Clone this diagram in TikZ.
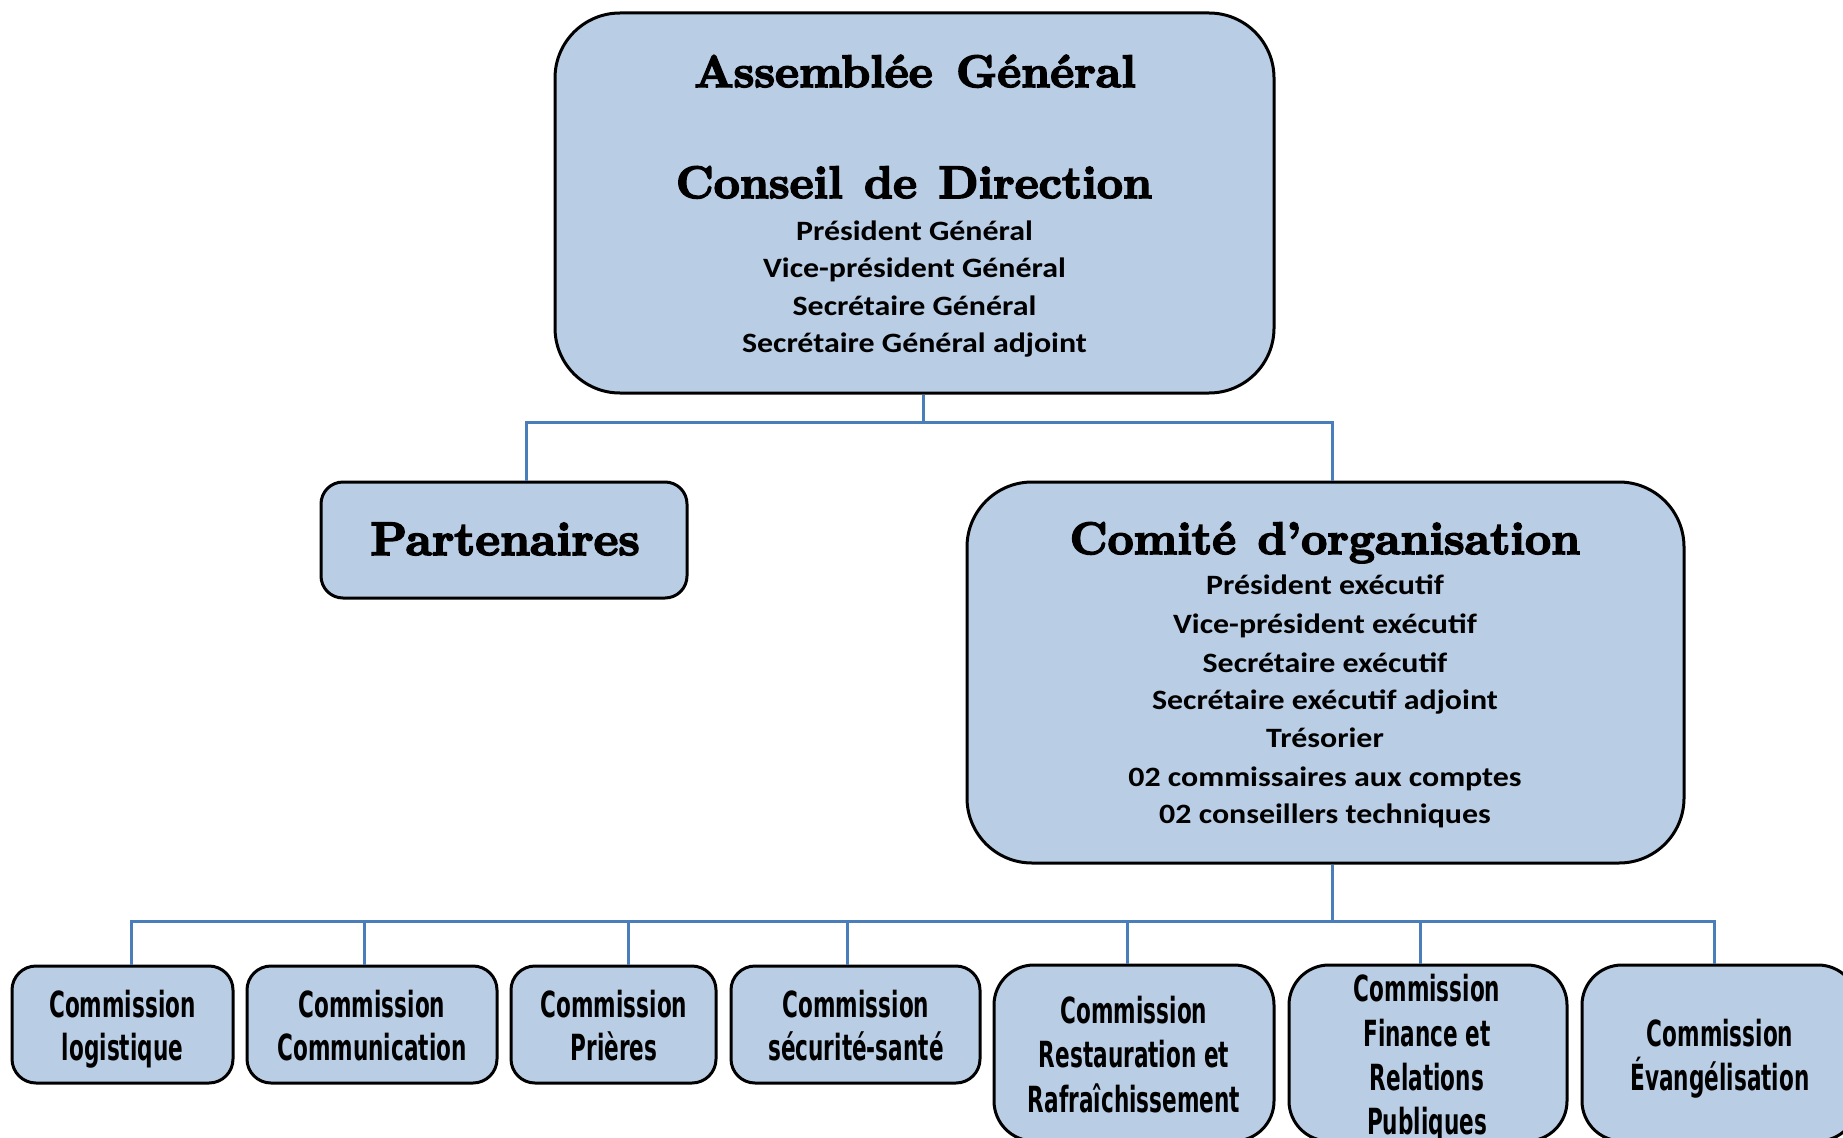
\documentclass[tikz,border=0pt]{standalone}
\usepackage{fontspec}
\newfontfamily\headfam{lmroman10-bold}[Extension=.otf, FakeBold=3.5]
\newfontfamily\bodyfam{Carlito}[FakeStretch=1.14]
\newfontfamily\agfam{DejaVu Sans}[FakeStretch=0.6]
\definecolor{boxfill}{RGB}{185,205,229}
\definecolor{connblue}{RGB}{74,126,187}
\tikzset{
  orgbox/.style={draw=black, line width=3pt, fill=boxfill, rectangle, inner sep=0pt},
  conn/.style={draw=connblue, line width=3pt},
  headtxt/.style={font=\headfam\fontsize{45.5}{53}\selectfont, anchor=base, inner sep=0pt},
  bodytxt/.style={font=\bodyfam\bfseries\fontsize{28}{34}\selectfont, anchor=base, inner sep=0pt},
  comtxt/.style={font=\agfam\bfseries\fontsize{36}{44}\selectfont, anchor=base, inner sep=0pt}
}
\begin{document}
\begin{tikzpicture}[x=1pt,y=-1pt]
\useasboundingbox (0,0) rectangle (1843,1137);
\clip (0,0) rectangle (1843,1137);
\fill[white] (0,0) rectangle (1843,1137);

% boxes
\node[orgbox, rounded corners=65pt, minimum width=719pt, minimum height=380pt] (top) at (914.5,203) {};
\node[orgbox, rounded corners=22pt, minimum width=366pt, minimum height=116pt] (part) at (504,540) {};
\node[orgbox, rounded corners=65pt, minimum width=717pt, minimum height=381pt] (comite) at (1325.5,672.5) {};
\node[orgbox, rounded corners=24pt, minimum width=221pt, minimum height=117pt] (c1) at (122.5,1024.5) {};
\node[orgbox, rounded corners=24pt, minimum width=250pt, minimum height=117pt] (c2) at (372,1024.5) {};
\node[orgbox, rounded corners=24pt, minimum width=205pt, minimum height=117pt] (c3) at (613.5,1024.5) {};
\node[orgbox, rounded corners=24pt, minimum width=249pt, minimum height=117pt] (c4) at (855.5,1024.5) {};
\node[orgbox, rounded corners=40pt, minimum width=280pt, minimum height=176pt] (c5) at (1134,1053) {};
\node[orgbox, rounded corners=40pt, minimum width=278pt, minimum height=176pt] (c6) at (1428,1053) {};
\node[orgbox, rounded corners=40pt, minimum width=276pt, minimum height=176pt] (c7) at (1720,1053) {};

% connectors
\coordinate (bus1) at (923,422);
\coordinate (bus2) at (1332,921);
\draw[conn] (top.south -| bus1) -- (bus1);
\draw[conn] ([xshift=22pt]part.north) |- (bus1);
\draw[conn] ([xshift=6.5pt]comite.north) |- (bus1);
\draw[conn] ([xshift=6.5pt]comite.south) -- (bus2);
\draw[conn] ([xshift=8.5pt]c1.north) |- (bus2);
\draw[conn] ([xshift=-8pt]c2.north) |- (bus2);
\draw[conn] ([xshift=14.5pt]c3.north) |- (bus2);
\draw[conn] ([xshift=-8.5pt]c4.north) |- (bus2);
\draw[conn] ([xshift=-7pt]c5.north) |- (bus2);
\draw[conn] ([xshift=-8pt]c6.north) |- (bus2);
\draw[conn] ([xshift=-6pt]c7.north) |- (bus2);

% top box text
\node[headtxt] (t1) at (915,87) {Assemblée\hspace{6pt} Général};
\node[headtxt] (t2) at (914,198) {Conseil\hspace{4pt} de\hspace{4pt} Direction};
\node[bodytxt] (t3) at (914.5,240) {Président Général};
\node[bodytxt] (t4) at (914.5,277) {Vice-président Général};
\node[bodytxt] (t5) at (914.5,315) {Secrétaire Général};
\node[bodytxt] (t6) at (914.5,352) {Secrétaire Général adjoint};

% partenaires
\node[headtxt, font=\headfam\fontsize{47}{53}\selectfont] (p1) at (505,555) {Partenaires};

% comite text
\node[headtxt] (k0) at (1325,554) {Comité\hspace{4pt} d’organisation};
\node[bodytxt] (k1) at (1325,594) {Président exécutif};
\node[bodytxt] (k2) at (1325,633) {Vice-président exécutif};
\node[bodytxt] (k3) at (1325,672) {Secrétaire exécutif};
\node[bodytxt] (k4) at (1325,709) {Secrétaire exécutif adjoint};
\node[bodytxt] (k5) at (1325,747) {Trésorier};
\node[bodytxt] (k6) at (1325,786) {02 commissaires aux comptes};
\node[bodytxt] (k7) at (1325,823) {02 conseillers techniques};

% commissions
\node[comtxt] (c1a) at (122.5,1017) {Commission};
\node[comtxt] (c1b) at (122.5,1060) {logistique};
\node[comtxt] (c2a) at (372,1017) {Commission};
\node[comtxt] (c2b) at (372,1060) {Communication};
\node[comtxt] (c3a) at (614,1017) {Commission};
\node[comtxt] (c3b) at (614,1060) {Prières};
\node[comtxt] (c4a) at (856,1017) {Commission};
\node[comtxt] (c4b) at (856,1060) {sécurité-santé};
\node[comtxt] (c5a) at (1134,1023) {Commission};
\node[comtxt] (c5b) at (1134,1067) {Restauration et};
\node[comtxt] (c5c) at (1134,1112) {Rafraîchissement};
\node[comtxt] (c6a) at (1427,1001) {Commission};
\node[comtxt] (c6b) at (1427,1046) {Finance et};
\node[comtxt] (c6c) at (1427,1090) {Relations};
\node[comtxt] (c6d) at (1427,1134) {Publiques};
\node[comtxt] (c7a) at (1720,1046) {Commission};
\node[comtxt] (c7b) at (1720,1090) {Évangélisation};
\end{tikzpicture}
\end{document}
